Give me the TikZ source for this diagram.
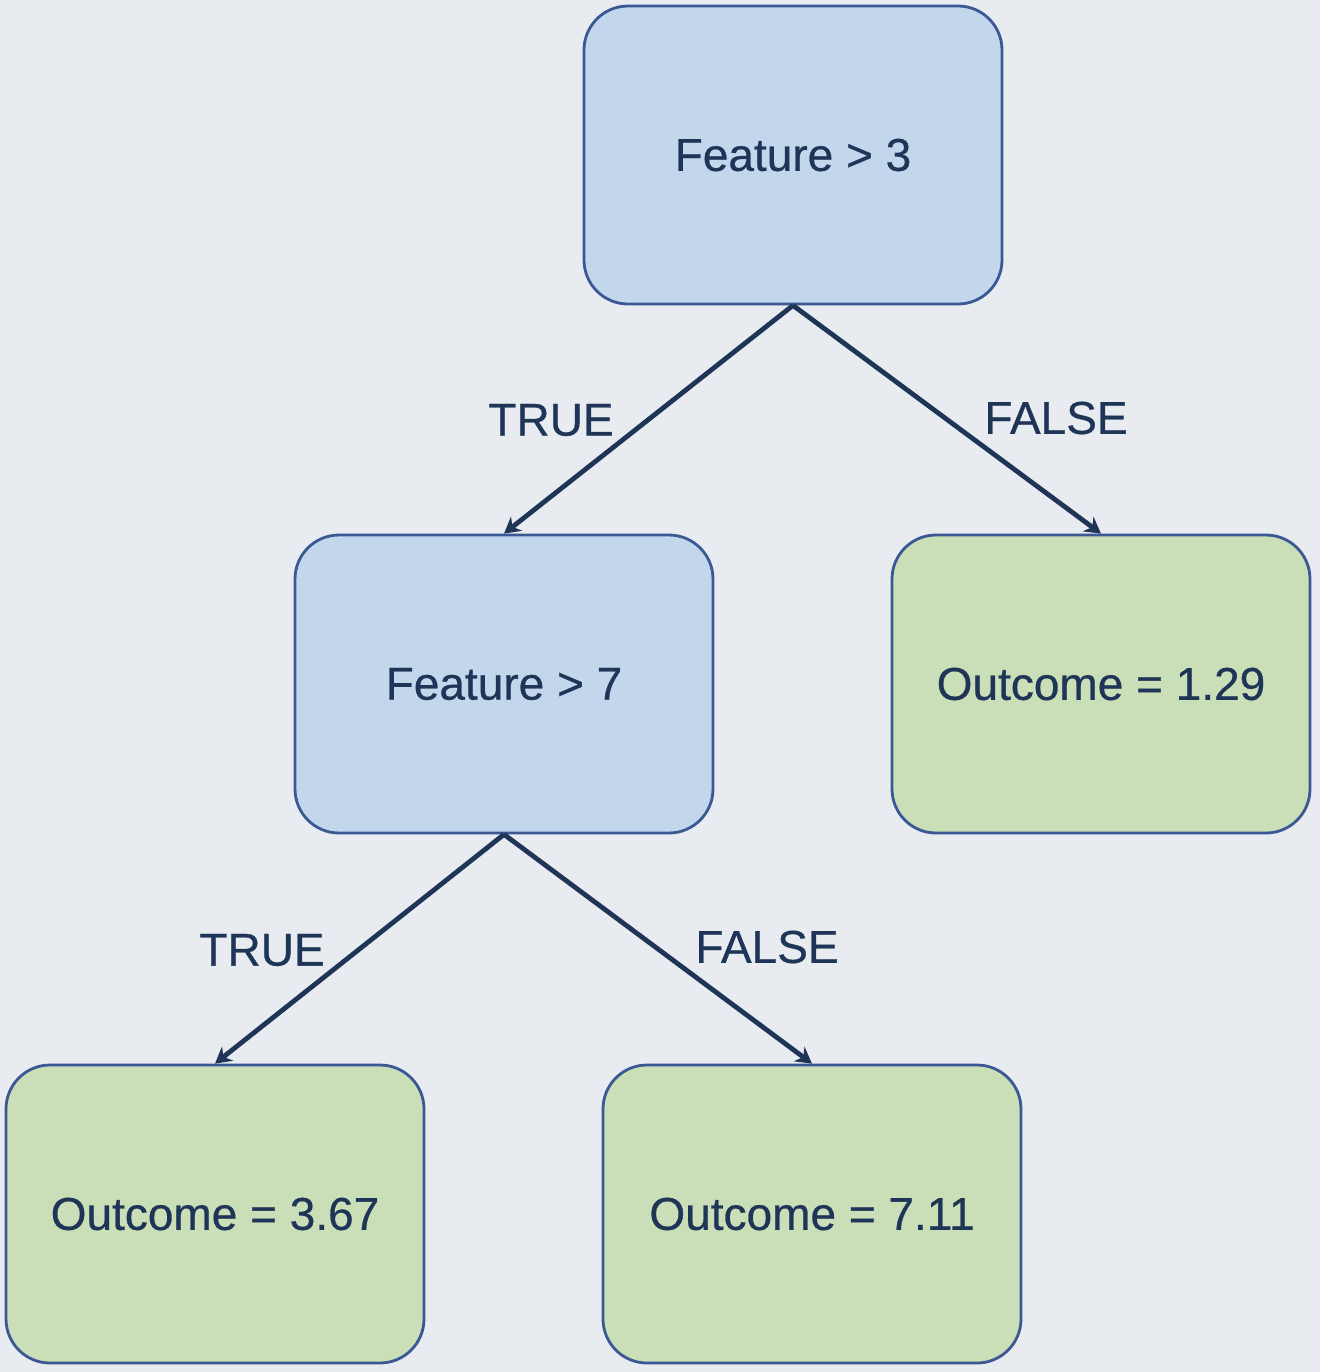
\documentclass[tikz,border=0pt]{standalone}
\usepackage{fontspec}
\setmainfont{Liberation Sans}
\newfontfamily\treefont{Liberation Sans}[FakeBold=0.6]
\usepackage{tikz}
\usetikzlibrary{arrows.meta}
\definecolor{bgcol}{HTML}{E8ECF0}
\definecolor{splitcol}{HTML}{C2D7EC}
\definecolor{leafcol}{HTML}{CADFB8}
\definecolor{edgecol}{HTML}{3B5894}
\definecolor{inkcol}{HTML}{1F3558}
\tikzset{
  font={\treefont\fontsize{23pt}{28}\selectfont},
  treebox/.style={draw=edgecol, line width=1.4pt, rounded corners=22pt,
    minimum width=209pt, minimum height=149pt, inner sep=0pt, text=inkcol},
  splitbox/.style={treebox, fill=splitcol},
  leafbox/.style={treebox, fill=leafcol},
  branch/.style={draw=inkcol, line width=2.4pt, -{Stealth[length=8pt,width=9pt]}},
  lbl/.style={text=inkcol, inner sep=0pt}}

\begin{document}
\begin{tikzpicture}[x=0.5pt,y=0.5pt]
\fill [bgcol] (0,0) rectangle (1320,-1372);
\useasboundingbox (0,0) rectangle (1320,-1372);
\node [splitbox] (root) at (793,-155) {Feature > 3};
\node [splitbox] (feat7) at (504,-684) {Feature > 7};
\node [leafbox] (out129) at (1101,-684) {Outcome = 1.29};
\node [leafbox] (out367) at (215,-1214) {Outcome = 3.67};
\node [leafbox] (out711) at (812,-1214) {Outcome = 7.11};
\draw [branch] (root.south) -- (feat7.north);
\draw [branch] (root.south) -- (out129.north);
\draw [branch] (feat7.south) -- (out367.north);
\draw [branch] (feat7.south) -- (out711.north);
\node [lbl] (t1) at (551,-420) {TRUE};
\node [lbl] (f1) at (1056,-418) {FALSE};
\node [lbl] (t2) at (262,-950) {TRUE};
\node [lbl] (f2) at (767,-947) {FALSE};
\end{tikzpicture}
\end{document}
